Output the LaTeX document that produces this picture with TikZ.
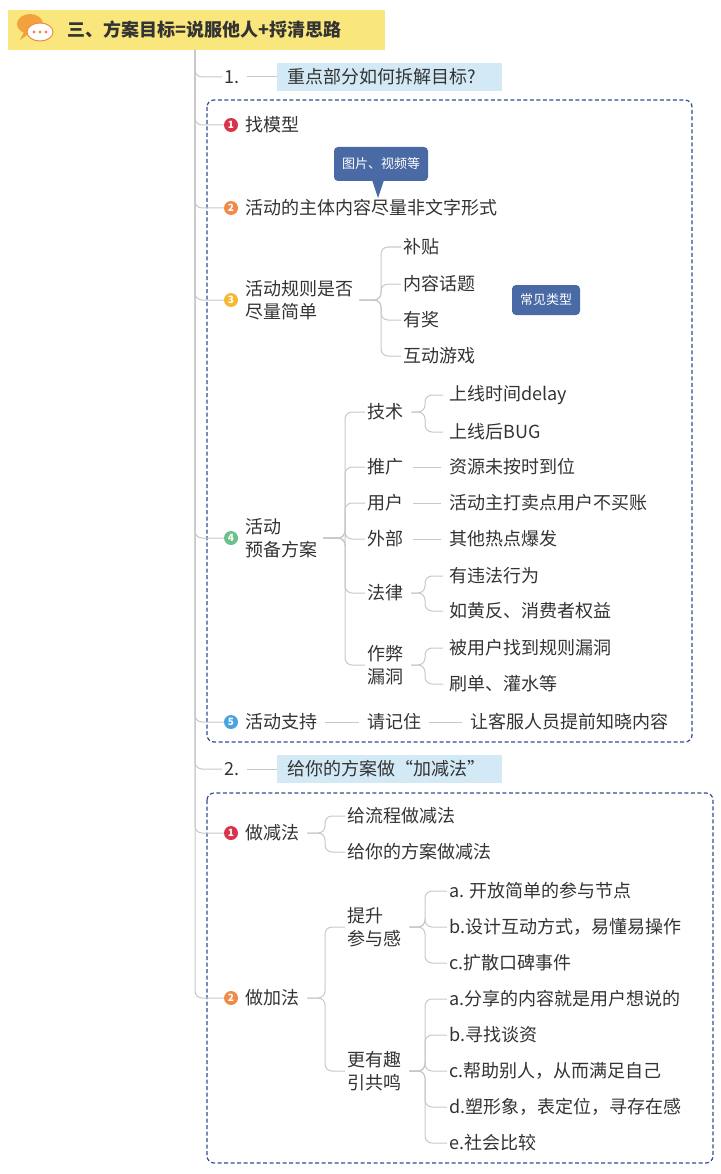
\documentclass[tikz,border=0pt]{standalone}
\usepackage{fontspec}
\setmainfont{Noto Sans CJK SC}
\definecolor{textgray}{HTML}{333333}
\definecolor{linegray}{HTML}{C8C8C8}
\definecolor{boxblue}{HTML}{2F4F8F}
\definecolor{calloutblue}{HTML}{4A6AA5}
\definecolor{lblblue}{HTML}{D3EAF6}
\definecolor{titleyellow}{HTML}{F9E67C}
\definecolor{cred}{HTML}{D9344A}
\definecolor{corange}{HTML}{F08A4B}
\definecolor{cyellow}{HTML}{F7B731}
\definecolor{cgreen}{HTML}{6CC08B}
\definecolor{cblue}{HTML}{4AA3DF}
\tikzset{
  txt/.style={anchor=west, inner sep=2pt, align=left, text=textgray, font=\fontsize{18}{23}\selectfont},
  conn/.style={draw=linegray, line width=1pt, rounded corners=7pt},
  num/.style={circle, fill=#1, inner sep=0pt, minimum size=14pt, text=white, font=\bfseries\fontsize{10}{10}\selectfont},
  lbl/.style={anchor=west, fill=lblblue, minimum height=28pt, inner xsep=10pt, text width=205pt, align=left, text=textgray, font=\fontsize{18}{22}\selectfont},
  callout/.style={fill=calloutblue, rounded corners=4pt, text=white, inner sep=8pt, minimum height=34pt, font=\fontsize{13}{15}\selectfont},
  group/.style={draw=boxblue, dash pattern=on 4pt off 2.5pt, line width=1.2pt, rounded corners=7pt}
}
\begin{document}
\begin{tikzpicture}[x=1pt,y=-1pt]
\useasboundingbox (0,0) rectangle (720,1174);
% title
\node[fill=titleyellow, minimum width=377pt, minimum height=40pt, anchor=north west, inner sep=0pt] (title) at (8,10) {};
\node[anchor=west, text=textgray, font=\bfseries\fontsize{18}{20}\selectfont] (titletxt) at (64,30) {三、方案目标=说服他人+捋清思路};
\fill[corange!80!yellow] (30,24) ellipse (13 and 10);
\fill[corange!80!yellow] (24,32) -- (20,40) -- (30,33) -- cycle;
\fill[white] (40,32) ellipse (13 and 9);
\draw[corange, line width=1pt] (40,32) ellipse (13 and 9);
\foreach \dx in {-6,0,6} \fill[corange] (40+\dx,32) circle (1.7);
\coordinate (trunk) at (195,50);
% groups
\draw[group] (207,100) rectangle (692,742);
\draw[group] (207,793) rectangle (713,1163);
% part 1
\node[txt] (one) at (222,77) {1.};
\node[lbl] (lblone) at (277,77) {重点部分如何拆解目标?};
\draw[conn] (trunk) |- (one.west);
\draw[conn] (one.east) ++(6,0) -- (lblone.west);

\node[num=cred] (na) at (231,125) {1};
\node[txt] (ta) at (243,125) {找模型};
\node[num=corange] (nb) at (231,208) {2};
\node[txt] (tb) at (243,208) {活动的主体内容尽量非文字形式};
\node[callout] (pic) at (381,164) {图片、视频等};
\fill[calloutblue] (372,180) -- (378,198) -- (384,180) -- cycle;
\node[num=cyellow] (nc) at (231,300) {3};
\node[txt] (tc) at (243,300) {活动规则是否\\尽量简单};
\node[callout, minimum height=30pt] (common) at (546,300) {常见类型};
\node[num=cgreen] (nd) at (231,538) {4};
\node[txt] (td) at (243,538) {活动\\预备方案};
\node[num=cblue] (ne) at (231,722) {5};
\node[txt] (te) at (243,722) {活动支持};
\foreach \n in {na,nb,nc,nd,ne} \draw[conn] (trunk) |- (\n.west);

\foreach \name/\y/\t in {ca/247/补贴, cb/284/内容话题, cc/320/有奖, cd/356/互动游戏} {
  \node[txt] (\name) at (401,\y) {\t};
  \draw[conn, shorten <=4pt] (tc.east) -| ([xshift=-20pt]\name.west) -- (\name.west);
}
\foreach \name/\y/\t in {da/412/技术, db/467/推广, dc/503/用户, dd/539/外部, de/593/法律, df/665/作弊\\漏洞} {
  \node[txt] (\name) at (365,\y) {\t};
  \draw[conn, shorten <=4pt] (td.east) -| ([xshift=-20pt]\name.west) -- (\name.west);
}
\foreach \p/\name/\y/\t in {da/ga/395/上线时间delay, da/gb/432/上线后BUG, de/gf/576/有违法行为, de/gg/611/如黄反、消费者权益, df/gh/648/被用户找到规则漏洞, df/gi/684/刷单、灌水等} {
  \node[txt] (\name) at (447,\y) {\t};
  \draw[conn, shorten <=6pt, shorten >=4pt] (\p.east) -| ([xshift=-22pt]\name.west) -- (\name.west);
}
\foreach \p/\name/\y/\t in {db/gc/467/资源未按时到位, dc/gd/503/活动主打卖点用户不买账, dd/ge/539/其他热点爆发} {
  \node[txt] (\name) at (447,\y) {\t};
  \draw[conn, shorten <=8pt, shorten >=6pt] (\p.east) -- (\name.west);
}
\node[txt] (ea) at (365,722) {请记住};
\node[txt] (eb) at (468,722) {让客服人员提前知晓内容};
\draw[conn, shorten <=6pt, shorten >=6pt] (te.east) -- (ea.west);
\draw[conn, shorten <=6pt, shorten >=6pt] (ea.east) -- (eb.west);

% part 2
\node[txt] (two) at (222,769) {2.};
\node[lbl] (lbltwo) at (277,769) {给你的方案做“加减法”};
\draw[conn] (trunk) |- (two.west);
\draw[conn] (two.east) ++(6,0) -- (lbltwo.west);

\node[num=cred] (nf) at (231,833) {1};
\node[txt] (tf) at (243,833) {做减法};
\node[num=corange] (ng) at (231,998) {2};
\node[txt] (tg) at (243,998) {做加法};
\foreach \n in {nf,ng} \draw[conn] (trunk) |- (\n.west);

\foreach \name/\y/\t in {fa/816/给流程做减法, fb/852/给你的方案做减法} {
  \node[txt] (\name) at (345,\y) {\t};
  \draw[conn, shorten <=6pt] (tf.east) -| ([xshift=-20pt]\name.west) -- (\name.west);
}
\foreach \name/\y/\t in {ha/927/提升\\参与感, hb/1071/更有趣\\引共鸣} {
  \node[txt] (\name) at (345,\y) {\t};
  \draw[conn, shorten <=6pt] (tg.east) -| ([xshift=-20pt]\name.west) -- (\name.west);
}
\foreach \p/\name/\y/\t in {ha/ia/891/a. 开放简单的参与节点, ha/ib/927/b.设计互动方式，易懂易操作, ha/ic/963/c.扩散口碑事件, hb/id/999/a.分享的内容就是用户想说的, hb/ie/1035/b.寻找谈资, hb/if/1071/c.帮助别人，从而满足自己, hb/ig/1107/d.塑形象，表定位，寻存在感, hb/ih/1143/e.社会比较} {
  \node[txt] (\name) at (447,\y) {\t};
  \draw[conn, shorten <=6pt] (\p.east) -| ([xshift=-22pt]\name.west) -- (\name.west);
}
\end{tikzpicture}
\end{document}
